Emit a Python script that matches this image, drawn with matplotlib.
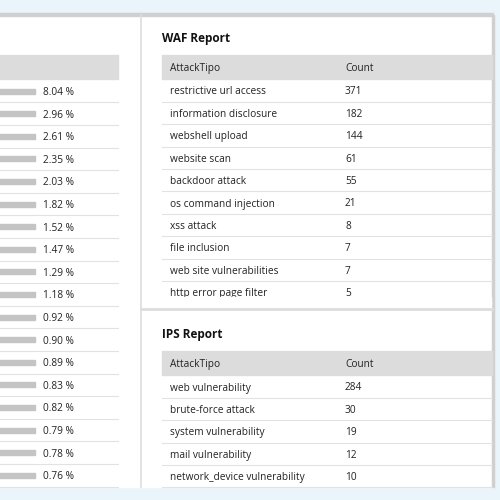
import matplotlib
matplotlib.use("Agg")
import matplotlib.pyplot as plt
from matplotlib.patches import Rectangle

pct_values = [8.04, 2.96, 2.61, 2.35, 2.03, 1.82, 1.52, 1.47, 1.29, 1.18, 0.92, 0.90, 0.89, 0.83, 0.82, 0.79, 0.78, 0.76]
waf_types = ["restrictive url access", "information disclosure", "webshell upload", "website scan",
             "backdoor attack", "os command injection", "xss attack", "file inclusion",
             "web site vulnerabilities", "http error page filter"]
waf_counts = [371, 182, 144, 61, 55, 21, 8, 7, 7, 5]
ips_types = ["web vulnerability", "brute-force attack", "system vulnerability", "mail vulnerability",
             "network_device vulnerability"]
ips_counts = [284, 30, 19, 12, 10]

plt.rcParams['font.family'] = ['Open Sans', 'DejaVu Sans']
fig = plt.figure(figsize=(5, 5), dpi=100)
fig.patch.set_facecolor('#e9f4fb')
ax = fig.add_axes([0, 0, 1, 1])
ax.set_xlim(0, 500); ax.set_ylim(500, 0); ax.axis('off')

txt = '#222222'; hdr = '#dcdcdc'; sep = '#e2e2e2'; fs = 7.3
ax.add_patch(Rectangle((0, 15), 493, 472, color='white', zorder=0))
ax.add_patch(Rectangle((0, 13), 493, 3, color='#d0d0d0', zorder=1))
ax.add_patch(Rectangle((492, 15), 2, 472, color='#d0d0d0', zorder=1))
ax.plot([141, 141], [15, 487], color='#dddddd', lw=1.2, zorder=6)

ax.add_patch(Rectangle((0, 55), 118, 24, color=hdr))
step = 22.6
for i, v in enumerate(pct_values):
    y = 91 + i * step
    ax.add_patch(Rectangle((-100, y - 2.5), 135, 5, color='#c4c4c4'))
    ax.text(43, y, f"{v:.2f} %", fontsize=fs, color=txt, va='center_baseline')
    ax.plot([0, 118], [y + 11.3, y + 11.3], color=sep, lw=0.8)

def table(title, ty, hy, types, counts):
    ax.text(162, ty, title, fontsize=8.5, fontweight='bold', color='#111111', va='center_baseline')
    ax.add_patch(Rectangle((162, hy), 330, 24, color=hdr))
    ax.text(170, hy + 12, "AttackTipo", fontsize=fs, color=txt, va='center_baseline')
    ax.text(345, hy + 12, "Count", fontsize=fs, color=txt, va='center_baseline')
    for i, (t, c) in enumerate(zip(types, counts)):
        y = hy + 35.5 + i * 22.4
        ax.text(170, y, t, fontsize=fs, color=txt, va='center_baseline')
        ax.text(345, y, str(c), fontsize=fs, color=txt, va='center_baseline')
        ax.plot([162, 492], [y + 11.2, y + 11.2], color=sep, lw=0.8)

table("WAF Report", 37, 55, waf_types, waf_counts)
table("IPS Report", 333, 351, ips_types, ips_counts)
# scroll clipping of the WAF table
ax.add_patch(Rectangle((150, 296.5), 341, 11, color='white', zorder=5))
ax.plot([141, 492], [308.5, 308.5], color='#dddddd', lw=2, zorder=6)

fig.savefig("out.png", dpi=100, facecolor=fig.get_facecolor())
